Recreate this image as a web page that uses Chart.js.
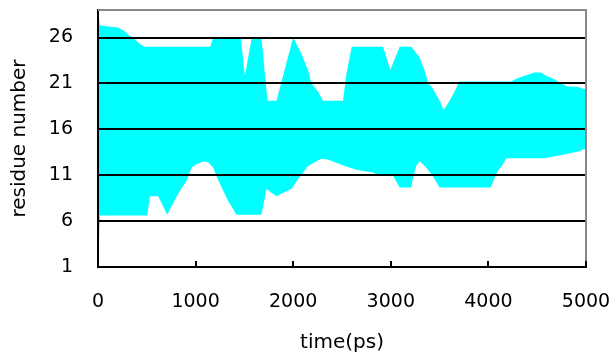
<!DOCTYPE html>
<html lang="en">
<head>
  <meta charset="UTF-8" />
  <title>residue number vs time</title>
  <script src="https://cdn.jsdelivr.net/npm/chart.js"></script>
  <style>
    body { margin: 0; background: #fff; }
    #chart { display: block; }
  </style>
</head>
<body>
  <canvas id="chart" width="613" height="356"></canvas>

  <script>
    // upper edge of the band (time in ps, residue number)
    const upperTime = [0, 20, 200, 260, 300, 350, 400, 430, 480, 1150, 1180, 1464, 1505, 1576, 1675, 1736, 1829, 1999,
      2020, 2085, 2153, 2187, 2255, 2306, 2510, 2545, 2600, 2920, 2996, 3091, 3210, 3296, 3347, 3381, 3432, 3500, 3541,
      3603, 3671, 3705, 4234, 4302, 4388, 4473, 4541, 4596, 4664, 4715, 4800, 4916, 4985, 5000];
    const upperRes = [29, 27.3, 27.1, 26.8, 26.4, 26.0, 25.6, 25.3, 25.0, 25.0, 26.0, 26.0, 21.8, 26.0, 26.0, 19.1, 19.1, 26.0,
      25.6, 24.2, 22.4, 21.0, 20.1, 19.1, 19.1, 22.0, 25.0, 25.0, 22.5, 25.0, 25.0, 23.8, 22.4, 21.1, 20.4, 19.1, 18.1,
      19.1, 20.5, 21.2, 21.2, 21.6, 21.9, 22.2, 22.2, 21.8, 21.5, 21.2, 20.7, 20.6, 20.4, 20.3];

    // lower edge of the band
    const lowerTime = [0, 20, 505, 532, 617, 709, 771, 839, 908, 959, 1010, 1081, 1129, 1180, 1214, 1266, 1334, 1419, 1675,
      1726, 1777, 1829, 1880, 1982, 2050, 2101, 2153, 2221, 2289, 2357, 2426, 2528, 2648, 2716, 2818, 2869, 3020, 3091,
      3210, 3227, 3261, 3296, 3364, 3432, 3500, 4023, 4063, 4097, 4149, 4183, 4575, 4694, 4813, 4933, 4967, 5000];
    const lowerRes = [1, 6.6, 6.6, 8.7, 8.7, 6.7, 8.0, 9.3, 10.4, 11.8, 12.2, 12.5, 12.4, 11.8, 10.9, 9.7, 8.2, 6.7, 6.7,
      9.5, 9.1, 8.7, 9.0, 9.5, 10.6, 11.3, 12.0, 12.4, 12.8, 12.7, 12.4, 12.0, 11.6, 11.45, 11.3, 11.0, 11.0, 9.65,
      9.65, 10.7, 12.0, 12.55, 11.8, 10.9, 9.65, 9.65, 10.7, 11.45, 12.2, 12.85, 12.85, 13.1, 13.35, 13.6, 13.8, 13.9];

    const yTicks = [1, 6, 11, 16, 21, 26];
    const xTicks = [0, 1000, 2000, 3000, 4000, 5000];

    const FONT = { family: "'DejaVu Sans', sans-serif", size: 19 };
    const TITLE_FONT = { family: "'DejaVu Sans', sans-serif", size: 20 };

    function pairs(xs, ys) {
      return xs.map((x, i) => ({ x: x, y: ys[i] }));
    }

    // gray frame on top/right and small inward ticks on the time axis
    const frame = {
      id: 'frame',
      afterDraw(chart) {
        const { ctx, chartArea: a, scales } = chart;
        ctx.save();
        ctx.strokeStyle = '#888';
        ctx.lineWidth = 2;
        ctx.beginPath();
        ctx.moveTo(a.left, a.top);
        ctx.lineTo(a.right, a.top);
        ctx.lineTo(a.right, a.bottom);
        ctx.stroke();
        ctx.strokeStyle = '#000';
        ctx.beginPath();
        xTicks.slice(1).forEach(t => {
          const px = Math.round(scales.x.getPixelForValue(t));
          ctx.moveTo(px, a.bottom);
          ctx.lineTo(px, a.bottom - 6);
        });
        ctx.stroke();
        ctx.restore();
      }
    };

    new Chart(document.getElementById('chart').getContext('2d'), {
      type: 'line',
      data: {
        datasets: [
          {
            data: pairs(upperTime, upperRes),
            borderWidth: 0,
            pointRadius: 0,
            backgroundColor: '#00ffff',
            fill: '+1'
          },
          {
            data: pairs(lowerTime, lowerRes),
            borderWidth: 0,
            pointRadius: 0,
            fill: false
          }
        ]
      },
      options: {
        responsive: false,
        animation: false,
        layout: { padding: { top: 10, right: 27, left: 0, bottom: 0 } },
        plugins: { legend: { display: false }, tooltip: { enabled: false } },
        scales: {
          x: {
            type: 'linear',
            min: 0,
            max: 5000,
            afterBuildTicks: s => { s.ticks = xTicks.map(v => ({ value: v })); },
            afterFit: s => { s.height = 89; s.paddingLeft = 0; s.paddingRight = 0; },
            ticks: { color: '#000', font: FONT, padding: 24, maxRotation: 0, callback: v => String(v) },
            grid: { drawOnChartArea: false, drawTicks: false },
            border: { color: '#000', width: 2, z: 1 },
            title: { display: true, text: 'time(ps)', color: '#000', font: TITLE_FONT, padding: { top: 0, bottom: 1 } }
          },
          y: {
            min: 1,
            max: 29,
            afterBuildTicks: s => { s.ticks = yTicks.map(v => ({ value: v })); },
            afterFit: s => { s.width = 98; s.paddingTop = 0; s.paddingBottom = 0; },
            ticks: { color: '#000', font: FONT, padding: 25, callback: v => String(v) },
            grid: { color: '#000', lineWidth: 2, drawTicks: false, z: 1 },
            border: { color: '#000', width: 2, z: 1 },
            title: { display: true, text: 'residue number', color: '#000', font: TITLE_FONT, padding: { top: 8, bottom: 0 } }
          }
        }
      },
      plugins: [frame]
    });
  </script>
</body>
</html>
